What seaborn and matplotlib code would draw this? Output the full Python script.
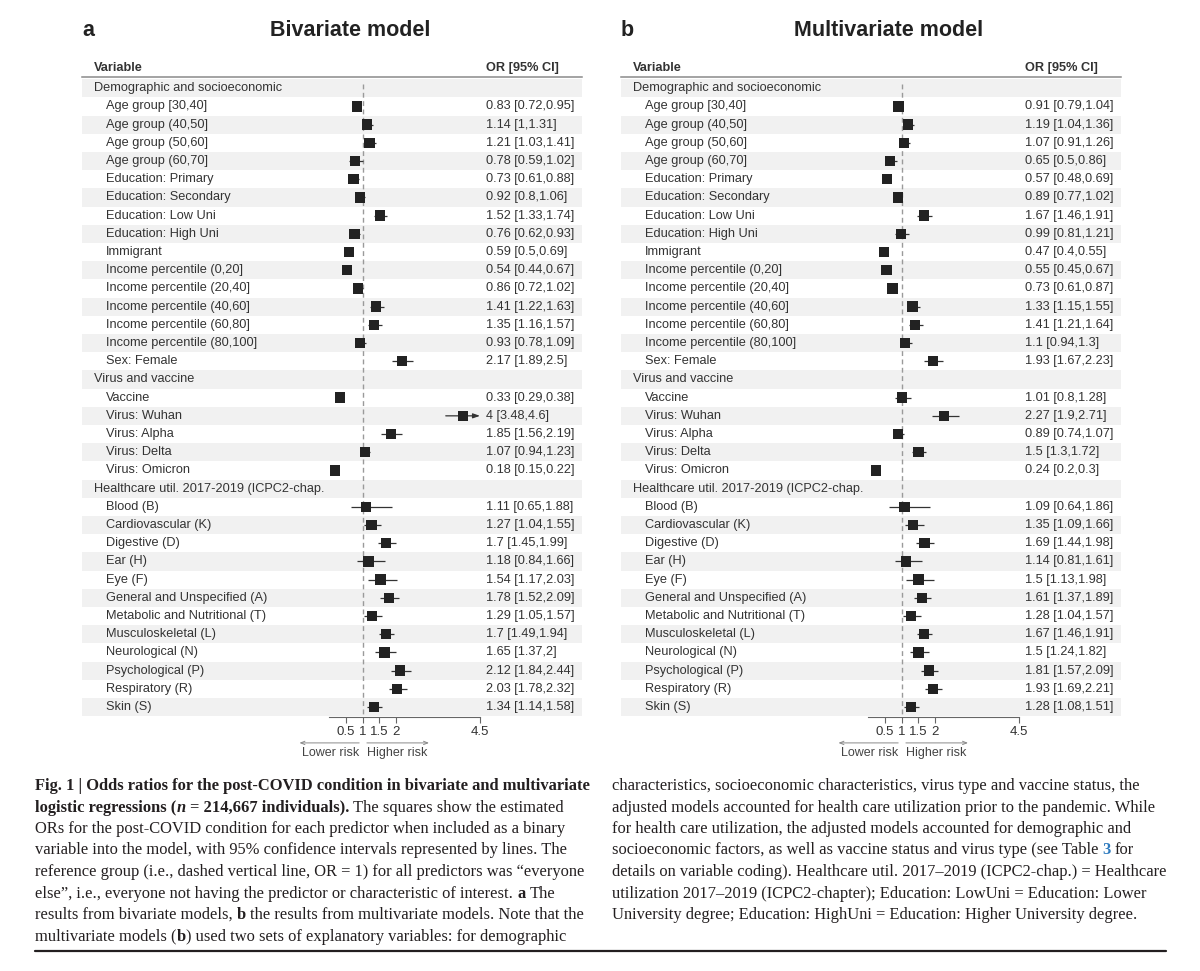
import numpy as np
import pandas as pd
import matplotlib
matplotlib.use("Agg")
import matplotlib.pyplot as plt
from matplotlib.lines import Line2D
import seaborn as sns

# =========================
# DATA
# =========================

groups = ["Demographic and socioeconomic",
          "Virus and vaccine",
          "Healthcare util. 2017-2019 (ICPC2-chap."]

demo_labels = ["Age group [30,40]", "Age group (40,50]", "Age group (50,60]",
               "Age group (60,70]", "Education: Primary", "Education: Secondary",
               "Education: Low Uni", "Education: High Uni", "Immigrant",
               "Income percentile (0,20]", "Income percentile (20,40]",
               "Income percentile (40,60]", "Income percentile (60,80]",
               "Income percentile (80,100]", "Sex: Female"]

virus_labels = ["Vaccine", "Virus: Wuhan", "Virus: Alpha", "Virus: Delta",
                "Virus: Omicron"]

health_labels = ["Blood (B)", "Cardiovascular (K)", "Digestive (D)", "Ear (H)",
                 "Eye (F)", "General and Unspecified (A)",
                 "Metabolic and Nutritional (T)", "Musculoskeletal (L)",
                 "Neurological (N)", "Psychological (P)", "Respiratory (R)",
                 "Skin (S)"]

# bivariate model
biv_or = [0.83, 1.14, 1.21, 0.78, 0.73, 0.92, 1.52, 0.76, 0.59, 0.54, 0.86, 1.41,
          1.35, 0.93, 2.17,
          0.33, 4, 1.85, 1.07, 0.18,
          1.11, 1.27, 1.7, 1.18, 1.54, 1.78, 1.29, 1.7, 1.65, 2.12, 2.03, 1.34]
biv_lo = [0.72, 1, 1.03, 0.59, 0.61, 0.8, 1.33, 0.62, 0.5, 0.44, 0.72, 1.22,
          1.16, 0.78, 1.89,
          0.29, 3.48, 1.56, 0.94, 0.15,
          0.65, 1.04, 1.45, 0.84, 1.17, 1.52, 1.05, 1.49, 1.37, 1.84, 1.78, 1.14]
biv_hi = [0.95, 1.31, 1.41, 1.02, 0.88, 1.06, 1.74, 0.93, 0.69, 0.67, 1.02, 1.63,
          1.57, 1.09, 2.5,
          0.38, 4.6, 2.19, 1.23, 0.22,
          1.88, 1.55, 1.99, 1.66, 2.03, 2.09, 1.57, 1.94, 2, 2.44, 2.32, 1.58]

# multivariate model
mul_or = [0.91, 1.19, 1.07, 0.65, 0.57, 0.89, 1.67, 0.99, 0.47, 0.55, 0.73, 1.33,
          1.41, 1.1, 1.93,
          1.01, 2.27, 0.89, 1.5, 0.24,
          1.09, 1.35, 1.69, 1.14, 1.5, 1.61, 1.28, 1.67, 1.5, 1.81, 1.93, 1.28]
mul_lo = [0.79, 1.04, 0.91, 0.5, 0.48, 0.77, 1.46, 0.81, 0.4, 0.45, 0.61, 1.15,
          1.21, 0.94, 1.67,
          0.8, 1.9, 0.74, 1.3, 0.2,
          0.64, 1.09, 1.44, 0.81, 1.13, 1.37, 1.04, 1.46, 1.24, 1.57, 1.69, 1.08]
mul_hi = [1.04, 1.36, 1.26, 0.86, 0.69, 1.02, 1.91, 1.21, 0.55, 0.67, 0.87, 1.55,
          1.64, 1.3, 2.23,
          1.28, 2.71, 1.07, 1.72, 0.3,
          1.86, 1.66, 1.98, 1.61, 1.98, 1.89, 1.57, 1.91, 1.82, 2.09, 2.21, 1.51]

x_ticks = [0.5, 1, 1.5, 2, 4.5]
x_ticklabels = ["0.5", "1", "1.5", "2", "4.5"]

# =========================
# STYLE
# =========================

sns.set_style("white")
plt.rcParams['font.family'] = ['Liberation Sans', 'DejaVu Sans']

W, H = 1200, 971
STRIPE = "#f1f1f1"
TXT = "#333333"
XMIN, XMAX = 0, 4.5
CAPTION_FONT = ['Liberation Serif', 'DejaVu Serif']
CAP_COLOR = "#231f20"


def build_table(or_vals, lo_vals, hi_vals):
    rows = []
    k = 0
    for g, labels in zip(groups, [demo_labels, virus_labels, health_labels]):
        rows.append(dict(label=g, header=True, est=np.nan, lo=np.nan, hi=np.nan))
        for lab in labels:
            rows.append(dict(label=lab, header=False, est=or_vals[k],
                             lo=lo_vals[k], hi=hi_vals[k]))
            k += 1
    df = pd.DataFrame(rows)
    df['row'] = np.arange(len(df))
    return df


def draw_panel(ax, df, letter, title):
    n = len(df)
    # zebra stripes
    for i in range(0, n, 2):
        ax.axhspan(i - 0.5, i + 0.5, color=STRIPE, lw=0, zorder=0)

    # reference line OR = 1
    ax.vlines(1, -0.25, n - 0.47, colors="#9a9a9a", linestyles=(0, (3.5, 2.5)),
              lw=1, zorder=1)

    # confidence intervals (arrow when beyond the axis)
    items = df[~df.header]
    for _, r in items.iterrows():
        if r.hi > XMAX:
            ax.annotate('', xy=(XMAX, r.row), xytext=(r.lo, r.row),
                        arrowprops=dict(arrowstyle='-|>,head_length=0.4,head_width=0.14',
                                        color="#333333", lw=0.9,
                                        shrinkA=0, shrinkB=0),
                        annotation_clip=False, zorder=2)
        else:
            ax.hlines(r.row, max(r.lo, XMIN), r.hi, color="#333333", lw=0.9, zorder=2)

    sns.scatterplot(data=items, x='est', y='row', marker='s', s=56,
                    color="#222222", edgecolor='none', linewidth=0,
                    ax=ax, zorder=3, legend=False)

    # table text
    for _, r in df.iterrows():
        if r.header:
            ax.text(-7.0, r.row, r.label, ha='left', va='center',
                    fontsize=9.2, color=TXT)
        else:
            ax.text(-6.64, r.row, r.label, ha='left', va='center',
                    fontsize=9.2, color=TXT)
            ax.text(4.67, r.row, f"{r.est:g} [{r.lo:g},{r.hi:g}]",
                    ha='left', va='center', fontsize=9.2, color=TXT)

    # column header
    ax.text(-7.0, -1.1, "Variable", ha='left', va='center', fontsize=9.2,
            fontweight='bold', color=TXT, clip_on=False)
    ax.text(4.67, -1.1, "OR [95% CI]", ha='left', va='center', fontsize=9.2,
            fontweight='bold', color=TXT, clip_on=False)

    ax.set_xlim(-7.36, 7.54)
    ax.set_ylim(n - 0.47, -0.6)
    ax.set_xlabel('')
    ax.set_ylabel('')
    ax.set_yticks([])
    ax.set_xticks(x_ticks)
    ax.set_xticklabels(x_ticklabels)
    ax.tick_params(axis='x', direction='out', length=4.5, width=0.8,
                   color="#666666", labelsize=9.5, labelcolor=TXT, pad=2,
                   bottom=True)

    for side in ['left', 'right']:
        ax.spines[side].set_visible(False)
    ax.spines['top'].set_visible(True)
    ax.spines['top'].set_color("#8a8a8a")
    ax.spines['top'].set_linewidth(1.1)
    ax.spines['bottom'].set_visible(True)
    ax.spines['bottom'].set_bounds(XMIN, XMAX)
    ax.spines['bottom'].set_color("#666666")
    ax.spines['bottom'].set_linewidth(0.8)

    # lower / higher risk arrows
    ax.annotate('', xy=(-0.88, 35.97), xytext=(0.9, 35.97),
                arrowprops=dict(arrowstyle='->,head_length=0.3,head_width=0.12',
                                color="#8a8a8a", lw=0.7, shrinkA=0, shrinkB=0),
                annotation_clip=False)
    ax.annotate('', xy=(2.98, 35.97), xytext=(1.13, 35.97),
                arrowprops=dict(arrowstyle='->,head_length=0.3,head_width=0.12',
                                color="#8a8a8a", lw=0.7, shrinkA=0, shrinkB=0),
                annotation_clip=False)
    ax.text(0.9, 36.5, "Lower risk", ha='right', va='center', fontsize=9,
            color="#444444", clip_on=False)
    ax.text(1.13, 36.5, "Higher risk", ha='left', va='center', fontsize=9,
            color="#444444", clip_on=False)

    # panel letter and title
    fig_y = 1 - 30 / H
    x0 = ax.get_position().x0
    w = ax.get_position().width
    fig.text(x0, fig_y, letter, ha='left', va='center', fontsize=15.5,
             fontweight='bold', color="#222222")
    fig.text(x0 + 0.536 * w, fig_y, title, ha='center', va='center',
             fontsize=15.5, fontweight='bold', color="#222222")


# =========================
# FIGURE
# =========================

fig = plt.figure(figsize=(12, 9.71), dpi=100)
ax_a = fig.add_axes([82 / W, 1 - 716.7 / H, 500 / W, 639.4 / H])
ax_b = fig.add_axes([621 / W, 1 - 716.7 / H, 500 / W, 639.4 / H])

df_biv = build_table(biv_or, biv_lo, biv_hi)
df_mul = build_table(mul_or, mul_lo, mul_hi)

draw_panel(ax_a, df_biv, "a", "Bivariate model")
draw_panel(ax_b, df_mul, "b", "Multivariate model")

# =========================
# CAPTION
# =========================

renderer = fig.canvas.get_renderer()


def style_kw(style, size):
    kw = dict(fontsize=size, family=CAPTION_FONT, color=CAP_COLOR,
              fontweight='normal', fontstyle='normal')
    if 'b' in style:
        kw['fontweight'] = 'bold'
    if 'i' in style:
        kw['fontstyle'] = 'italic'
    if 'blue' in style:
        kw['color'] = "#2e7bbf"
    return kw


def measure(s, kw):
    t = fig.text(0, 0, s, **kw)
    w = t.get_window_extent(renderer).width
    t.remove()
    return w


def draw_line(x_px, y_px, segments, size):
    x = x_px
    for text, style in segments:
        kw = style_kw(style, size)
        sp = measure("a a", kw) - measure("aa", kw)
        stripped = text.strip(' ')
        lead = len(text) - len(text.lstrip(' '))
        trail = len(text) - len(text.rstrip(' '))
        x += lead * sp
        if stripped:
            t = fig.text(x / W, 1 - y_px / H, stripped, va='baseline',
                         ha='left', **kw)
            x += t.get_window_extent(renderer).width
        x += trail * sp


left_lines = [
    [("Fig. 1 | Odds ratios for the post-COVID condition in bivariate and multivariate", 'b')],
    [("logistic regressions (", 'b'), ("n", 'bi'), (" = 214,667 individuals).", 'b'),
     (" The squares show the estimated", '')],
    [("ORs for the post-COVID condition for each predictor when included as a binary", '')],
    [("variable into the model, with 95% confidence intervals represented by lines. The", '')],
    [("reference group (i.e., dashed vertical line, OR = 1) for all predictors was \u201ceveryone", '')],
    [("else\u201d, i.e., everyone not having the predictor or characteristic of interest. ", ''),
     ("a", 'b'), (" The", '')],
    [("results from bivariate models, ", ''), ("b", 'b'),
     (" the results from multivariate models. Note that the", '')],
    [("multivariate models (", ''), ("b", 'b'),
     (") used two sets of explanatory variables: for demographic", '')],
]

right_lines = [
    [("characteristics, socioeconomic characteristics, virus type and vaccine status, the", '')],
    [("adjusted models accounted for health care utilization prior to the pandemic. While", '')],
    [("for health care utilization, the adjusted models accounted for demographic and", '')],
    [("socioeconomic factors, as well as vaccine status and virus type (see Table ", ''),
     ("3", 'blue'), (" for", '')],
    [("details on variable coding). Healthcare util. 2017\u20132019 (ICPC2-chap.) = Healthcare", '')],
    [("utilization 2017\u20132019 (ICPC2-chapter); Education: LowUni = Education: Lower", '')],
    [("University degree; Education: HighUni = Education: Higher University degree.", '')],
]

# caption size chosen so the "reference group" line fills the column width
ref_w = measure(left_lines[4][0][0], style_kw('', 10))
cap_size = 10 * 548 / ref_w

y0 = 790
step = 21.5
for i, segs in enumerate(left_lines):
    draw_line(35, y0 + i * step, segs, cap_size)
for i, segs in enumerate(right_lines):
    draw_line(612, y0 + i * step, segs, cap_size)

fig.add_artist(Line2D([35 / W, 1166 / W], [1 - 951 / H, 1 - 951 / H],
                      color=CAP_COLOR, lw=1.6))

fig.savefig("out.png", dpi=100)
